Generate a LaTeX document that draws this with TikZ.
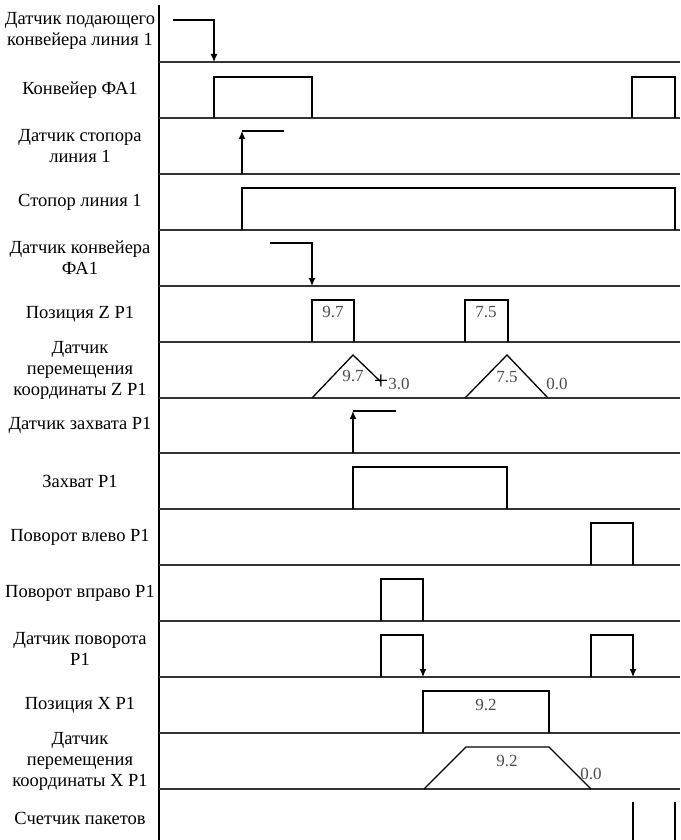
\documentclass[tikz,border=0pt]{standalone}
\usepackage{fontspec}
\setmainfont{Liberation Serif}
\usetikzlibrary{arrows.meta}

\begin{document}
\begin{tikzpicture}[x=1pt, y=-1pt, line width=1.2pt,
  sig/.style={line width=1.3pt, black},
  tick/.style={sig, -{Latex[length=8pt, width=7pt]}},
  gridline/.style={line width=1.5pt, black!80},
  lbl/.style={align=center, font=\fontsize{18.5}{21}\selectfont},
  val/.style={font=\fontsize{17}{18}\selectfont, black!70, inner sep=0pt}]
\useasboundingbox (0,0) rectangle (680,840);
% axis and row lines
\draw[sig] (159,5) -- (159,840);
\foreach \yb in {62,118,174,230,286,342,398,453,509,565,621,677,733,789}
  \draw[gridline] (159,\yb) -- (680,\yb);
% row labels
\node[lbl] (l1) at (80,31) {Датчик подающего\\конвейера линия 1};
\node[lbl] (l2) at (80,90) {Конвейер ФА1};
\node[lbl] (l3) at (80,146) {Датчик стопора\\линия 1};
\node[lbl] (l4) at (80,202) {Стопор линия 1};
\node[lbl] (l5) at (80,258) {Датчик конвейера\\ФА1};
\node[lbl] (l6) at (80,314) {Позиция Z P1};
\node[lbl] (l7) at (80,370) {Датчик\\перемещения\\координаты Z P1};
\node[lbl] (l8) at (80,425) {Датчик захвата P1};
\node[lbl] (l9) at (80,481) {Захват P1};
\node[lbl] (l10) at (80,537) {Поворот влево P1};
\node[lbl] (l11) at (80,593) {Поворот вправо P1};
\node[lbl] (l12) at (80,649) {Датчик поворота\\P1};
\node[lbl] (l13) at (80,705) {Позиция X P1};
\node[lbl] (l14) at (80,761) {Датчик\\перемещения\\координаты X P1};
\node[lbl] (l15) at (80,818) {Счетчик пакетов};
% conveyor line 1
\draw[tick] (173,20) -- (214,20) -- (214,62);
\draw[sig] (214,118) -- (214,77) -- (312,77) -- (312,118);
\draw[sig] (632,118) -- (632,77) -- (675,77) -- (675,118);
% stopper
\draw[sig] (242,131) -- (284,131);
\draw[tick] (242,174) -- (242,131);
\draw[sig] (242,230) -- (242,188) -- (675,188) -- (675,230);
\draw[tick] (270,243) -- (312,243) -- (312,286);
% Z axis
\draw[sig] (312,342) -- (312,300) -- (354,300) -- (354,342);
\draw[sig] (465,342) -- (465,300) -- (508,300) -- (508,342);
\node[val] (z1) at (333,312) {9.7};
\node[val] (z2) at (486,312) {7.5};
\draw[sig] (312,398) -- (353,355) -- (381,382);
\draw[sig] (465,398) -- (507,355) -- (548,398);
\node[val] (zm1) at (353,376) {9.7};
\node[val, anchor=west] (zm2) at (373,382) {{\color{black}\fontsize{26}{26}\selectfont +}3.0};
\node[val] (zm3) at (507,377) {7.5};
\node[val] (zm4) at (557,384) {0.0};
% gripper
\draw[sig] (353,411) -- (396,411);
\draw[tick] (353,453) -- (353,411);
\draw[sig] (353,509) -- (353,467) -- (507,467) -- (507,509);
% rotation
\draw[sig] (591,565) -- (591,523) -- (633,523) -- (633,565);
\draw[sig] (381,621) -- (381,579) -- (423,579) -- (423,621);
\draw[tick] (381,677) -- (381,635) -- (423,635) -- (423,677);
\draw[tick] (591,677) -- (591,635) -- (633,635) -- (633,677);
% X axis
\draw[sig] (423,733) -- (423,691) -- (549,691) -- (549,733);
\node[val] (x1) at (486,705) {9.2};
\draw[sig] (424,789) -- (466,747) -- (549,747) -- (591,789);
\node[val] (xm1) at (507,761) {9.2};
\node[val] (xm2) at (591,774) {0.0};
% package counter
\draw[sig] (633,802) -- (633,840);
\draw[sig] (675,802) -- (675,840);
\end{tikzpicture}
\end{document}
